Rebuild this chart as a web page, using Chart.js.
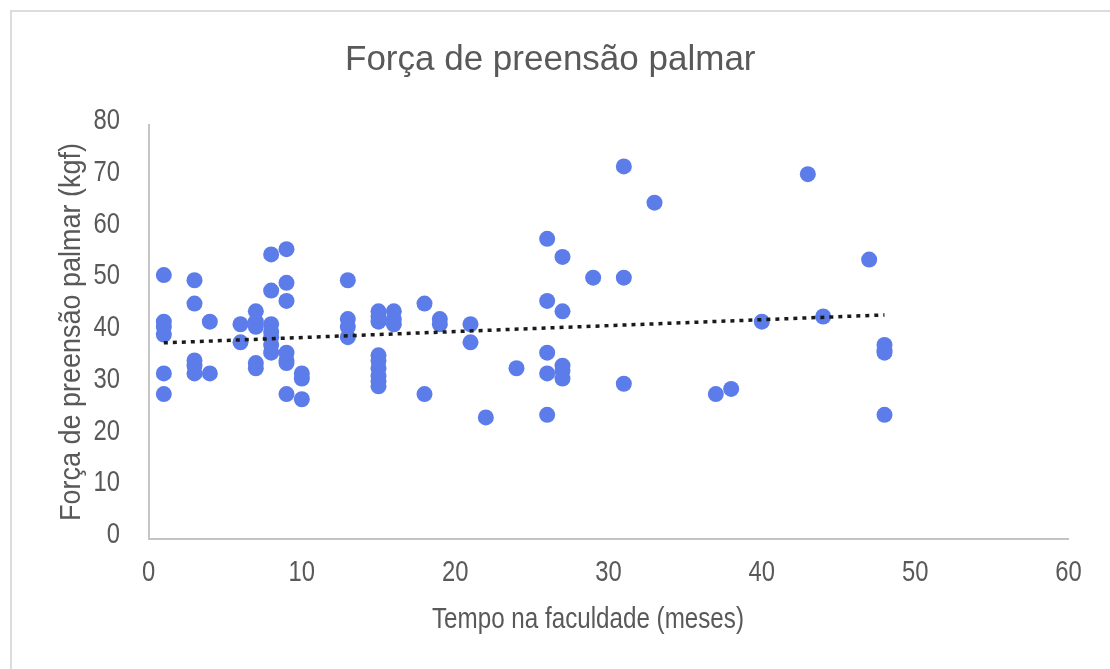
<!DOCTYPE html>
<html>
<head>
<meta charset="utf-8">
<title>Força de preensão palmar</title>
<script src="https://cdn.jsdelivr.net/npm/chart.js@4.4.1/dist/chart.umd.min.js"></script>
<style>
  html, body { margin: 0; padding: 0; background: #ffffff; }
  #wrap { width: 1110px; height: 669px; position: relative; }
</style>
</head>
<body>
<div id="wrap"><canvas id="chart" width="1110" height="669"></canvas></div>
<script>
// Months at the faculty for each student
const monthsAtFaculty = [
  1, 1, 1, 1, 1, 1,
  3, 3, 3, 3, 3,
  4, 4,
  6, 6,
  7, 7, 7, 7, 7,
  8, 8, 8, 8, 8, 8, 8,
  9, 9, 9, 9, 9, 9, 9,
  10, 10, 10,
  13, 13, 13, 13,
  15, 15, 15, 15, 15, 15, 15, 15, 15,
  16, 16, 16,
  18, 18,
  19, 19,
  21, 21,
  22,
  24,
  26, 26, 26, 26, 26,
  27, 27, 27, 27, 27,
  29,
  31, 31, 31,
  33,
  37,
  38,
  40,
  43,
  44,
  47,
  48, 48, 48, 48
];

// Palmar grip strength (kgf) for the same students
const gripStrength = [
  51, 42, 41, 39.5, 32, 28,
  50, 45.5, 34.5, 33.5, 32,
  42, 32,
  41.5, 38,
  44, 42, 41, 34, 33,
  55, 48, 41.5, 40, 39, 37.5, 36,
  56, 49.5, 46, 36, 34.5, 34, 28,
  32, 31, 27,
  50, 42.5, 41, 39,
  44, 43, 42, 35.5, 34.5, 33, 31.5, 30.5, 29.5,
  44, 42.5, 41.5,
  45.5, 28,
  42.5, 41.5,
  41.5, 38,
  23.5,
  33,
  58, 46, 36, 32, 24,
  54.5, 44, 33.5, 32.5, 31,
  50.5,
  72, 50.5, 30,
  65,
  28,
  29,
  42,
  70.5,
  43,
  54,
  37.5, 36.5, 36, 24
];

// Linear trend line end points
const trendX = [1, 48];
const trendY = [37.9, 43.3];

// Axis tick values
const xTickValues = [0, 10, 20, 30, 40, 50, 60];
const yTickValues = [0, 10, 20, 30, 40, 50, 60, 70, 80];

const chartTitle = 'Força de preensão palmar';
const xAxisTitle = 'Tempo na faculdade (meses)';
const yAxisTitle = 'Força de preensão palmar (kgf)';

const TEXT_GREY = '#595959';
const SANS = "'Liberation Sans', Arial, sans-serif";

const points = monthsAtFaculty.map((m, i) => ({ x: m, y: gripStrength[i] }));
const trend = trendX.map((m, i) => ({ x: m, y: trendY[i] }));

// Condensed text: regular sans squeezed along the writing direction
function narrowText(ctx, text, x, y, size, squeeze, align, angle) {
  ctx.save();
  ctx.translate(x, y);
  if (angle) ctx.rotate(angle);
  ctx.scale(squeeze, 1);
  ctx.font = size + 'px ' + SANS;
  ctx.fillStyle = TEXT_GREY;
  ctx.textAlign = align;
  ctx.textBaseline = 'middle';
  ctx.fillText(text, 0, 0);
  ctx.restore();
}

// White page, light frame, axis labels and axis titles
const decorations = {
  id: 'decorations',
  beforeDraw(chart) {
    const ctx = chart.ctx;
    ctx.save();
    ctx.fillStyle = '#ffffff';
    ctx.fillRect(0, 0, chart.width, chart.height);
    ctx.strokeStyle = '#dcdcdc';
    ctx.lineWidth = 2;
    ctx.beginPath();
    ctx.moveTo(11, chart.height + 5);
    ctx.lineTo(11, 11);
    ctx.lineTo(chart.width + 5, 11);
    ctx.stroke();
    ctx.restore();
  },
  afterDraw(chart) {
    const ctx = chart.ctx;
    const xs = chart.scales.x;
    const ys = chart.scales.y;
    xs.ticks.forEach(t => {
      narrowText(ctx, String(t.value), xs.getPixelForValue(t.value), xs.top + 34, 29, 0.82, 'center', 0);
    });
    ys.ticks.forEach(t => {
      narrowText(ctx, String(t.value), ys.right - 28.5, ys.getPixelForValue(t.value) - 4, 29, 0.82, 'right', 0);
    });
    narrowText(ctx, xAxisTitle, 588, 620, 29.5, 0.82, 'center', 0);
    narrowText(ctx, yAxisTitle, 72, (ys.top + ys.bottom) / 2, 29, 0.93, 'center', -Math.PI / 2);
  }
};

new Chart(document.getElementById('chart'), {
  type: 'scatter',
  data: {
    datasets: [
      {
        type: 'line',
        label: 'Linear (Força de preensão palmar)',
        data: trend,
        borderColor: '#1a1a1a',
        borderWidth: 3.5,
        borderDash: [4, 5],
        borderCapStyle: 'butt',
        pointRadius: 0,
        fill: false,
        order: 0
      },
      {
        label: chartTitle,
        data: points,
        backgroundColor: 'rgb(92,124,234)',
        borderWidth: 0,
        pointRadius: 8,
        pointHoverRadius: 8,
        order: 1
      }
    ]
  },
  options: {
    responsive: false,
    animation: false,
    events: [],
    layout: { padding: { left: 32, right: 41.5, top: 0, bottom: 0 } },
    plugins: {
      legend: { display: false },
      tooltip: { enabled: false },
      title: {
        display: true,
        text: chartTitle,
        color: TEXT_GREY,
        font: { family: SANS, size: 35, weight: 'normal' },
        padding: { top: 39, bottom: 44 }
      }
    },
    scales: {
      x: {
        type: 'linear',
        min: 0,
        max: 60,
        afterBuildTicks(scale) { scale.ticks = xTickValues.map(v => ({ value: v })); },
        afterFit(scale) { scale.height = 130; },
        grid: { display: false, drawTicks: false },
        border: { display: true, color: '#c4c4c4', width: 2 },
        ticks: { display: false }
      },
      y: {
        type: 'linear',
        min: 0,
        max: 80,
        afterBuildTicks(scale) { scale.ticks = yTickValues.map(v => ({ value: v })); },
        afterFit(scale) { scale.width = 116.5; },
        grid: { display: false, drawTicks: false },
        border: { display: true, color: '#c4c4c4', width: 2 },
        ticks: { display: false }
      }
    }
  },
  plugins: [decorations]
});
</script>
</body>
</html>
